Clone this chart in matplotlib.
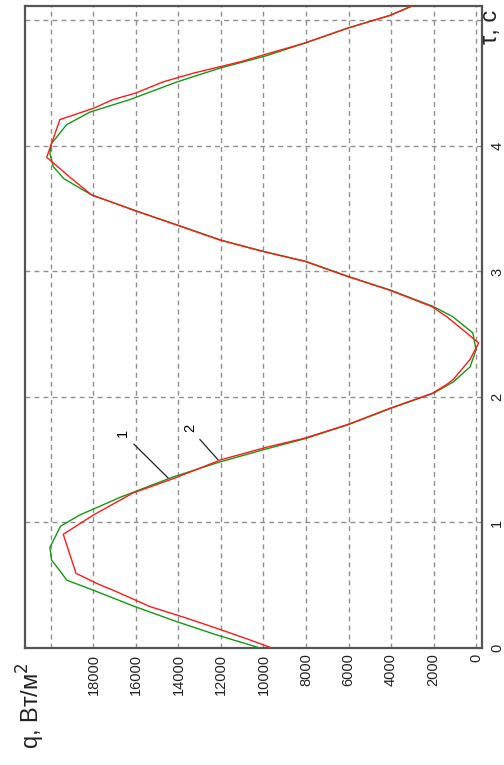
import numpy as np
import matplotlib
matplotlib.use("Agg")
import matplotlib.pyplot as plt

# heat flux q(tau): curve 1 (red, piecewise) and curve 2 (green, smooth)
tau_red = [0.00, 0.064, 0.157, 0.237, 0.33, 0.454, 0.515, 0.595, 0.906, 1.06,
           1.235, 1.355, 1.50, 1.60, 1.67, 1.78, 1.91, 2.03, 2.10, 2.14,
           2.30, 2.43, 2.51, 2.64, 2.72, 2.85, 2.96, 3.08, 3.16, 3.25,
           3.37, 3.48, 3.61, 3.75, 3.91, 4.02, 4.21, 4.30, 4.37, 4.42,
           4.51, 4.58, 4.67, 4.74, 4.82, 4.94, 5.04, 5.115]
q_red = [9600, 10630, 12200, 13600, 15340, 16990, 17850, 18820, 19420, 18000,
         16140, 14150, 12000, 9850, 8100, 6050, 4050, 2050, 1380, 1070,
         280, -120, 440, 1380, 2080, 4050, 6050, 8050, 10050, 12050,
         14080, 15970, 18090, 19100, 20200, 19970, 19580, 18000, 17080, 16040,
         14730, 13300, 11100, 9700, 8050, 6020, 4050, 3030]

tau_green = [0.00, 0.104, 0.157, 0.21, 0.33, 0.46, 0.54, 0.62, 0.70, 0.80,
             0.97, 1.06, 1.20, 1.36, 1.48, 1.58, 1.67, 1.78, 1.91, 2.03,
             2.12, 2.24, 2.375, 2.51, 2.64, 2.72, 2.85, 2.96, 3.08, 3.16,
             3.25, 3.37, 3.48, 3.61, 3.74, 3.835, 3.94, 4.02, 4.17, 4.27,
             4.37, 4.51, 4.62, 4.72, 4.82, 4.94, 5.04, 5.115]
q_green = [10160, 12200, 13140, 14080, 16050, 18000, 19250, 19600, 19970, 20050,
           19550, 18640, 16750, 14300, 12100, 10000, 8000, 6000, 4000, 2000,
           1070, 280, 0, 150, 1100, 2000, 4000, 6000, 8000, 10000,
           12000, 14050, 15950, 18090, 19400, 19890, 20050, 19970, 19260, 18160,
           16280, 14070, 12050, 9840, 8050, 6020, 4050, 3000]

q_ticks = [0, 2000, 4000, 6000, 8000, 10000, 12000, 14000, 16000, 18000, 20000]
q_ticklabels = ["0", "2000", "4000", "6000", "8000", "10000", "12000",
                "14000", "16000", "18000", ""]
tau_ticks = [0, 1, 2, 3, 4, 5]
tau_ticklabels = ["0", "1", "2", "3", "4", ""]

plt.rcParams['font.family'] = ['Liberation Sans', 'DejaVu Sans']

fig = plt.figure(figsize=(5.04, 7.65), dpi=100)
ax = fig.add_axes([25 / 504, 1 - 648 / 765, 457 / 504, 642 / 765])

# the page is turned: q runs right-to-left, tau runs upward
ax.plot(q_green, tau_green, color="#129a12", lw=1.0, zorder=3)
ax.plot(q_red, tau_red, color="#ff1a1a", lw=1.0, zorder=4)

ax.set_xlim(21220, -280)
ax.set_ylim(0, 5.115)

ax.set_xticks(q_ticks)
ax.set_xticklabels(q_ticklabels, rotation=90, fontsize=10.5, color="#222222")
ax.yaxis.tick_right()
ax.set_yticks(tau_ticks)
ax.set_yticklabels(tau_ticklabels, rotation=90, fontsize=10.5,
                   color="#222222", va="center")
ax.tick_params(axis="both", length=0)
ax.tick_params(axis="x", pad=4)
ax.tick_params(axis="y", pad=6)

ax.grid(True, color="#8f8f8f", lw=1.0, linestyle=(0, (3.5, 3)))
for s in ax.spines.values():
    s.set_color("#555555")
    s.set_linewidth(1.6)

# curve labels with leader lines
ax.annotate("1", xy=(14490, 1.355), xytext=(16610, 1.71),
            rotation=90, fontsize=10.5, ha="center", va="center",
            arrowprops=dict(arrowstyle="-", color="#222222", lw=0.9,
                            shrinkA=4, shrinkB=0))
ax.annotate("2", xy=(12140, 1.50), xytext=(13460, 1.75),
            rotation=90, fontsize=10.5, ha="center", va="center",
            arrowprops=dict(arrowstyle="-", color="#222222", lw=0.9,
                            shrinkA=4, shrinkB=0))

fig.text(491 / 504, 1 - 27 / 765, "τ, с", rotation=90, fontsize=17,
         ha="center", va="center", color="#222222")
fig.text(31 / 504, 1 - 706 / 765, "q, Вт/м$^2$", rotation=90, fontsize=17,
         ha="center", va="center", color="#222222")

fig.savefig("out.png", dpi=100)
